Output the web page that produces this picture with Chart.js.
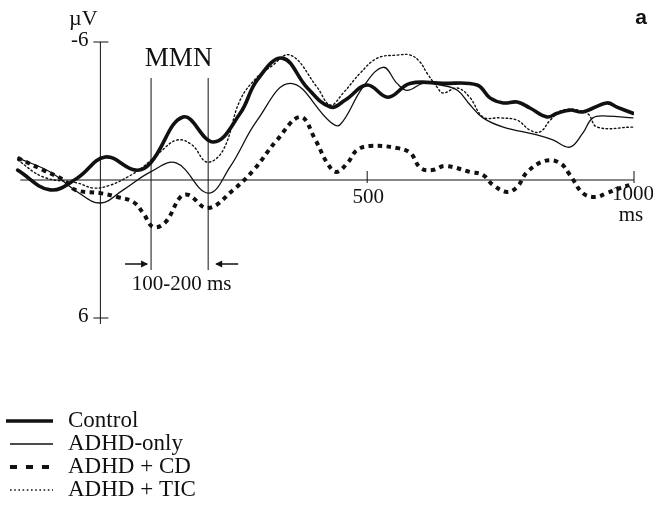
<!DOCTYPE html>
<html>
<head>
<meta charset="utf-8">
<script src="https://cdn.jsdelivr.net/npm/chart.js@4"></script>
<style>
  body { margin: 0; background: #fff; }
  #wrap { width: 653px; height: 518px; }
</style>
</head>
<body>
<div id="wrap"><canvas id="canva1" width="653" height="518"></canvas></div>
<script>
// time (ms) and amplitude (µV, negative up)
const controlMs = [-155, -94, -43, 9, 66, 94, 155, 212, 262, 294, 341, 388, 431, 459, 500, 539, 580, 642, 706, 730, 755, 781, 805, 837, 856, 880, 904, 949, 968, 998];
const controlUv = [-0.43, 0.43, -0.09, -1.0, -0.43, -0.74, -2.74, -1.65, -2.9, -4.35, -5.3, -4.0, -3.17, -3.48, -4.13, -3.6, -4.2, -4.2, -4.13, -3.57, -3.35, -3.39, -3.13, -2.74, -2.9, -3.04, -2.96, -3.35, -3.17, -2.9];

const adhdMs = [-155, -94, -43, 0, 43, 94, 142, 202, 243, 294, 356, 431, 449, 492, 530, 556, 575, 605, 637, 669, 693, 717, 755, 818, 848, 880, 904, 923, 949, 998];
const adhdUv = [-0.96, -0.35, 0.52, 1.0, 0.43, -0.35, -0.74, 0.57, -0.57, -2.6, -4.2, -2.52, -2.4, -4.04, -4.9, -4.2, -3.9, -4.2, -4.13, -3.9, -3.26, -2.7, -2.3, -1.96, -1.74, -1.43, -2.04, -2.7, -2.78, -2.7];

const cdMs = [-155, -107, -69, -47, 0, 32, 62, 80, 99, 122, 150, 165, 202, 249, 287, 331, 375, 403, 425, 442, 463, 481, 506, 556, 581, 600, 622, 646, 693, 717, 736, 762, 781, 800, 833, 861, 880, 904, 927, 949, 974, 998];
const cdUv = [-0.96, -0.43, 0, 0.43, 0.57, 0.74, 0.96, 1.43, 2.04, 1.83, 0.74, 0.65, 1.22, 0.43, -0.43, -1.74, -2.74, -1.74, -0.74, -0.35, -0.74, -1.3, -1.48, -1.39, -1.17, -0.52, -0.43, -0.61, -0.35, -0.22, 0.22, 0.52, 0.3, -0.35, -0.83, -0.74, -0.22, 0.57, 0.74, 0.57, 0.35, 0.17];

const ticMs = [-155, -107, -43, -13, 19, 51, 80, 112, 144, 172, 200, 230, 262, 294, 318, 356, 406, 431, 455, 487, 519, 556, 581, 599, 612, 631, 642, 669, 693, 717, 749, 781, 805, 824, 843, 867, 912, 931, 998];
const ticUv = [-0.87, -0.13, 0.13, 0.35, 0.22, -0.13, -0.57, -1.22, -1.74, -1.52, -0.78, -1.3, -3.48, -4.48, -4.9, -5.43, -4.04, -3.26, -3.78, -4.65, -5.3, -5.43, -5.43, -5.13, -4.65, -4.04, -3.78, -4.0, -3.57, -2.74, -2.7, -2.6, -2.17, -2.09, -2.6, -3.04, -2.9, -2.3, -2.3];

const groupNames = ["Control", "ADHD-only", "ADHD + CD", "ADHD + TIC"];
const xTicks = [500, 1000];
const yTicks = [-6, 6];
const mmnWindow = [95, 202];

function pts(ms, uv) {
    return ms.map(function(t, i){ return {x: t, y: uv[i]}; });
}

const ink = "#111";
const serif = "'Liberation Serif', 'Times New Roman', serif";

const styles = [
    {width: 3.6, dash: []},
    {width: 1.3, dash: []},
    {width: 4, dash: [4.5, 4.5]},
    {width: 1.4, dash: [1.6, 2.6]}
];

const figurePlugin = {
    id: "figure",
    beforeDatasetsDraw: function(chart){
        const ctx = chart.ctx;
        const xs = chart.scales.x, ys = chart.scales.y;
        const x0 = xs.getPixelForValue(0);
        const y0 = ys.getPixelForValue(0);
        ctx.save();
        ctx.strokeStyle = ink;
        ctx.fillStyle = ink;
        ctx.lineWidth = 1;
        // axes
        ctx.beginPath();
        ctx.moveTo(x0, ys.getPixelForValue(-6));
        ctx.lineTo(x0, ys.getPixelForValue(6) + 6);
        ctx.moveTo(xs.getPixelForValue(-150), y0);
        ctx.lineTo(xs.getPixelForValue(1000), y0);
        ctx.stroke();
        ctx.font = "21px " + serif;
        ctx.textBaseline = "middle";
        yTicks.forEach(function(v){
            const y = ys.getPixelForValue(v);
            ctx.beginPath();
            ctx.moveTo(x0 - 7, y);
            ctx.lineTo(x0 + 8, y);
            ctx.stroke();
            ctx.textAlign = "right";
            ctx.fillText(String(v), x0 - 12, y - 2);
        });
        ctx.textAlign = "center";
        ctx.font = "22px " + serif;
        ctx.fillText("\u00b5V", x0 - 17, 19);
        ctx.font = "21px " + serif;
        xTicks.forEach(function(v){
            const x = xs.getPixelForValue(v);
            ctx.beginPath();
            ctx.moveTo(x, y0 - 9);
            ctx.lineTo(x, y0 + 3);
            ctx.stroke();
            ctx.fillText(String(v), x + (v === 1000 ? -1 : 1), y0 + (v === 1000 ? 14 : 17));
        });
        ctx.fillText("ms", xs.getPixelForValue(1000) - 3, y0 + 35);
        // MMN window
        const xa = xs.getPixelForValue(mmnWindow[0]);
        const xb = xs.getPixelForValue(mmnWindow[1]);
        ctx.beginPath();
        ctx.moveTo(xa, 78); ctx.lineTo(xa, 270);
        ctx.moveTo(xb, 78); ctx.lineTo(xb, 270);
        ctx.stroke();
        ctx.font = "27px " + serif;
        ctx.fillText("MMN", (xa + xb) / 2 - 1, 59);
        // arrows
        ctx.lineWidth = 1.3;
        ctx.beginPath();
        ctx.moveTo(xa - 26, 264); ctx.lineTo(xa - 4, 264);
        ctx.moveTo(xb + 30, 264); ctx.lineTo(xb + 8, 264);
        ctx.stroke();
        ctx.beginPath();
        ctx.moveTo(xa - 3, 264); ctx.lineTo(xa - 10, 260.5); ctx.lineTo(xa - 10, 267.5); ctx.closePath();
        ctx.moveTo(xb + 7, 264); ctx.lineTo(xb + 14, 260.5); ctx.lineTo(xb + 14, 267.5); ctx.closePath();
        ctx.fill();
        ctx.font = "21px " + serif;
        ctx.fillText("100-200 ms", (xa + xb) / 2 + 2, 284);
        // panel letter
        ctx.font = "bold 21px 'Liberation Sans', Arial, sans-serif";
        ctx.fillText("a", 641, 18);
        // legend
        const rows = [421, 444, 467, 490];
        groupNames.forEach(function(name, i){
            ctx.lineWidth = styles[i].width;
            ctx.setLineDash(i === 2 ? [7, 9] : styles[i].dash);
            ctx.beginPath();
            ctx.moveTo(i === 0 ? 6 : 10, rows[i]);
            ctx.lineTo(53, rows[i]);
            ctx.stroke();
            ctx.setLineDash([]);
            ctx.font = "23px " + serif;
            ctx.textAlign = "left";
            ctx.fillText(name, 68, rows[i]);
        });
        ctx.restore();
    }
};

window.onload = function(){
    let canva1 = document.getElementById("canva1");
    const series = [pts(controlMs, controlUv), pts(adhdMs, adhdUv), pts(cdMs, cdUv), pts(ticMs, ticUv)];
    let grafico1 = new Chart(canva1, {
        type: "line",
        data: {
            datasets: series.map(function(d, i){
                return {
                    label: groupNames[i],
                    data: d,
                    borderColor: ink,
                    borderWidth: styles[i].width,
                    borderDash: styles[i].dash,
                    borderCapStyle: i === 2 ? "butt" : "round",
                    pointRadius: 0,
                    tension: 0.4,
                    fill: false
                };
            })
        },
        options: {
            responsive: false,
            animation: false,
            layout: {padding: {left: 15, right: 19, top: 42, bottom: 200}},
            plugins: {legend: {display: false}, tooltip: {enabled: false}},
            scales: {
                x: {type: "linear", min: -160, max: 1000, display: false},
                y: {min: -6, max: 6, reverse: true, display: false}
            }
        },
        plugins: [figurePlugin]
    });
};
</script>
</body>
</html>
